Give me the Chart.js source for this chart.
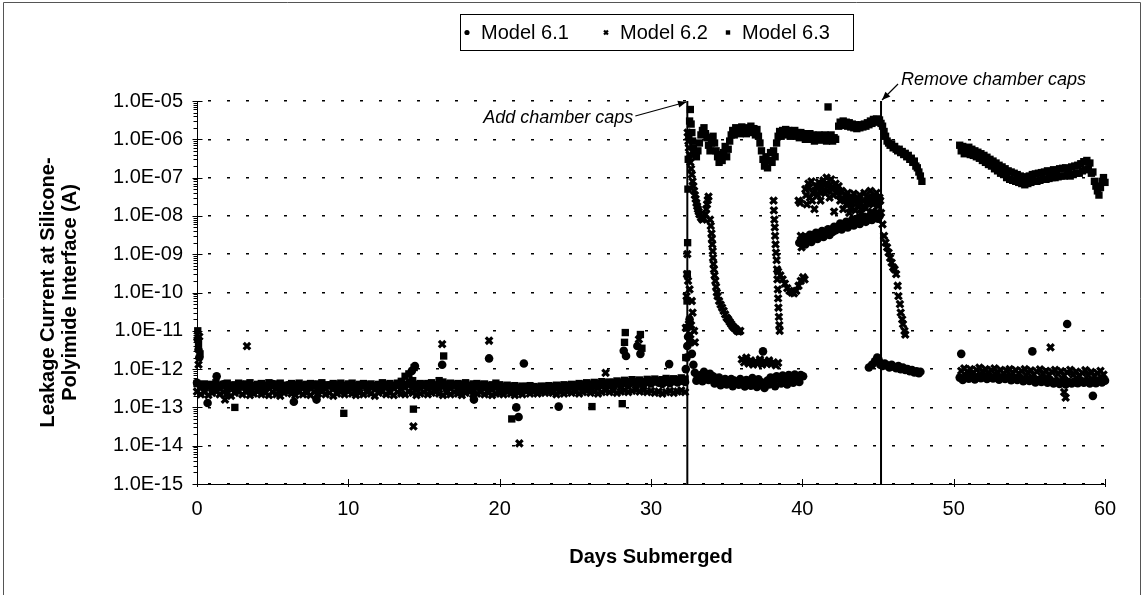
<!DOCTYPE html>
<html>
<head>
<meta charset="utf-8">
<script src="https://cdn.jsdelivr.net/npm/chart.js@4.4.0/dist/chart.umd.min.js"></script>
<style>
  body { margin: 0; background: #fff; }
  #wrap { width: 1143px; height: 595px; position: relative; }
</style>
</head>
<body>
<div id="wrap"><canvas id="leak-chart"></canvas></div>
<script>
const FONT = '"Liberation Sans", Arial, sans-serif'

const xTickValues = [0, 10, 20, 30, 40, 50, 60]
const yTickValues = [1e-15, 1e-14, 1e-13, 1e-12, 1e-11, 1e-10, 1e-9, 1e-8, 1e-7, 1e-6, 1e-5]
const yTickLabels = ['1.0E-15', '1.0E-14', '1.0E-13', '1.0E-12', '1.0E-11', '1.0E-10',
    '1.0E-09', '1.0E-08', '1.0E-07', '1.0E-06', '1.0E-05']

const capsOnDay = 32.4
const capsOffDay = 45.2
const noteAdd = 'Add chamber caps'
const noteRemove = 'Remove chamber caps'

// days before the caps, same sampling for the three models
const baseDays = [
    0, 0.25, 0.5, 0.75, 1, 1.25, 1.5, 1.75, 2, 2.25,
    2.5, 2.75, 3, 3.25, 3.5, 3.75, 4, 4.25, 4.5, 4.75,
    5, 5.25, 5.5, 5.75, 6, 6.25, 6.5, 6.75, 7, 7.25,
    7.5, 7.75, 8, 8.25, 8.5, 8.75, 9, 9.25, 9.5, 9.75,
    10, 10.25, 10.5, 10.75, 11, 11.25, 11.5, 11.75, 12, 12.25,
    12.5, 12.75, 13, 13.25, 13.5, 13.75, 14, 14.25, 14.5, 14.75,
    15, 15.25, 15.5, 15.75, 16, 16.25, 16.5, 16.75, 17, 17.25,
    17.5, 17.75, 18, 18.25, 18.5, 18.75, 19, 19.25, 19.5, 19.75,
    20, 20.25, 20.5, 20.75, 21, 21.25, 21.5, 21.75, 22, 22.25,
    22.5, 22.75, 23, 23.25, 23.5, 23.75, 24, 24.25, 24.5, 24.75,
    25, 25.25, 25.5, 25.75, 26, 26.25, 26.5, 26.75, 27, 27.25,
    27.5, 27.75, 28, 28.25, 28.5, 28.75, 29, 29.25, 29.5, 29.75,
    30, 30.25, 30.5, 30.75, 31, 31.25, 31.5, 31.75, 32, 32.25,
]

const m61Base = [
    4.4e-13, 3.6e-13, 3.1e-13, 3.8e-13, 3.3e-13, 2.9e-13, 3.5e-13, 4.0e-13, 3.2e-13, 3.6e-13,
    3.0e-13, 3.4e-13, 3.9e-13, 3.1e-13, 2.8e-13, 3.5e-13, 3.7e-13, 3.2e-13, 3.0e-13, 3.6e-13,
    4.1e-13, 3.3e-13, 2.9e-13, 3.4e-13, 3.8e-13, 3.1e-13, 2.7e-13, 3.3e-13, 3.6e-13, 3.0e-13,
    3.4e-13, 3.9e-13, 3.2e-13, 2.9e-13, 3.5e-13, 3.8e-13, 3.3e-13, 3.0e-13, 3.6e-13, 3.2e-13,
    3.7e-13, 3.4e-13, 3.0e-13, 3.5e-13, 3.9e-13, 3.2e-13, 3.6e-13, 3.3e-13, 2.9e-13, 3.5e-13,
    3.8e-13, 3.2e-13, 3.6e-13, 3.9e-13, 3.4e-13, 3.7e-13, 4.4e-13, 3.6e-13, 3.1e-13, 3.5e-13,
    3.9e-13, 3.3e-13, 3.6e-13, 3.0e-13, 3.4e-13, 3.8e-13, 3.2e-13, 3.5e-13, 3.9e-13, 3.3e-13,
    3.0e-13, 3.6e-13, 3.4e-13, 3.1e-13, 3.7e-13, 3.3e-13, 3.5e-13, 3.0e-13, 3.2e-13, 3.6e-13,
    3.4e-13, 3.1e-13, 2.9e-13, 3.3e-13, 3.0e-13, 2.8e-13, 3.2e-13, 3.0e-13, 2.9e-13, 3.1e-13,
    2.8e-13, 3.0e-13, 3.2e-13, 2.9e-13, 3.1e-13, 3.3e-13, 3.0e-13, 3.4e-13, 3.1e-13, 3.5e-13,
    3.3e-13, 3.6e-13, 3.2e-13, 3.7e-13, 3.4e-13, 3.8e-13, 3.5e-13, 3.9e-13, 3.6e-13, 4.0e-13,
    3.7e-13, 4.2e-13, 3.8e-13, 4.3e-13, 3.9e-13, 4.5e-13, 4.1e-13, 4.4e-13, 4.0e-13, 4.6e-13,
    4.2e-13, 4.8e-13, 4.4e-13, 4.1e-13, 4.7e-13, 4.3e-13, 4.9e-13, 4.5e-13, 5.0e-13, 4.6e-13,
]
const m62Base = [
    2.6e-13, 2.2e-13, 2.5e-13, 2.1e-13, 2.4e-13, 2.7e-13, 2.2e-13, 2.5e-13, 2.3e-13, 2.0e-13,
    2.4e-13, 2.6e-13, 2.2e-13, 2.5e-13, 2.1e-13, 2.3e-13, 2.6e-13, 2.2e-13, 2.4e-13, 2.1e-13,
    2.5e-13, 2.2e-13, 2.0e-13, 2.4e-13, 2.6e-13, 2.3e-13, 2.1e-13, 2.5e-13, 2.2e-13, 2.4e-13,
    2.1e-13, 2.5e-13, 2.3e-13, 2.6e-13, 2.2e-13, 2.4e-13, 2.0e-13, 2.3e-13, 2.5e-13, 2.2e-13,
    2.6e-13, 2.3e-13, 2.1e-13, 2.4e-13, 2.2e-13, 2.5e-13, 2.3e-13, 2.0e-13, 2.4e-13, 2.6e-13,
    2.2e-13, 2.4e-13, 2.1e-13, 2.5e-13, 2.3e-13, 2.2e-13, 2.6e-13, 2.4e-13, 2.1e-13, 2.3e-13,
    2.5e-13, 2.2e-13, 2.4e-13, 2.6e-13, 2.3e-13, 2.1e-13, 2.4e-13, 2.2e-13, 2.5e-13, 2.3e-13,
    2.1e-13, 2.4e-13, 2.6e-13, 2.2e-13, 2.3e-13, 2.5e-13, 2.2e-13, 2.4e-13, 2.1e-13, 2.3e-13,
    2.4e-13, 2.2e-13, 2.5e-13, 2.3e-13, 2.1e-13, 2.4e-13, 2.2e-13, 2.6e-13, 2.3e-13, 2.5e-13,
    2.3e-13, 2.5e-13, 2.4e-13, 2.6e-13, 2.4e-13, 2.2e-13, 2.5e-13, 2.3e-13, 2.6e-13, 2.4e-13,
    2.6e-13, 2.3e-13, 2.5e-13, 2.7e-13, 2.4e-13, 2.6e-13, 2.3e-13, 2.5e-13, 2.8e-13, 2.5e-13,
    2.7e-13, 2.4e-13, 2.6e-13, 2.8e-13, 2.5e-13, 2.7e-13, 2.9e-13, 2.6e-13, 2.8e-13, 2.5e-13,
    2.7e-13, 2.4e-13, 2.6e-13, 2.3e-13, 2.5e-13, 2.7e-13, 2.4e-13, 2.6e-13, 2.8e-13, 2.5e-13,
]
const m63Base = [
    4.2e-13, 3.8e-13, 4.1e-13, 3.7e-13, 4.0e-13, 4.4e-13, 3.8e-13, 4.0e-13, 4.3e-13, 3.7e-13,
    3.9e-13, 4.3e-13, 3.8e-13, 4.1e-13, 4.4e-13, 3.7e-13, 4.0e-13, 4.2e-13, 3.8e-13, 4.4e-13,
    3.7e-13, 4.1e-13, 4.3e-13, 3.8e-13, 3.6e-13, 4.2e-13, 3.9e-13, 4.3e-13, 3.8e-13, 4.0e-13,
    4.2e-13, 3.8e-13, 4.1e-13, 4.4e-13, 3.9e-13, 3.7e-13, 4.2e-13, 3.9e-13, 4.3e-13, 3.8e-13,
    4.1e-13, 4.3e-13, 3.8e-13, 4.0e-13, 4.2e-13, 3.9e-13, 4.1e-13, 3.7e-13, 4.0e-13, 4.4e-13,
    3.9e-13, 4.2e-13, 3.8e-13, 4.3e-13, 4.8e-13, 6.5e-13, 7.5e-13, 5.0e-13, 4.0e-13, 4.2e-13,
    3.8e-13, 4.2e-13, 4.4e-13, 3.9e-13, 5.0e-13, 4.6e-13, 4.1e-13, 4.3e-13, 3.8e-13, 4.2e-13,
    4.0e-13, 4.4e-13, 3.8e-13, 4.1e-13, 4.2e-13, 3.9e-13, 4.1e-13, 3.7e-13, 3.9e-13, 4.3e-13,
    3.9e-13, 3.6e-13, 3.8e-13, 3.5e-13, 3.7e-13, 3.4e-13, 3.6e-13, 3.5e-13, 3.7e-13, 3.5e-13,
    3.4e-13, 3.6e-13, 3.5e-13, 3.7e-13, 3.5e-13, 3.8e-13, 3.6e-13, 3.9e-13, 3.7e-13, 4.0e-13,
    3.9e-13, 4.2e-13, 4.0e-13, 4.4e-13, 4.1e-13, 4.5e-13, 4.2e-13, 4.7e-13, 4.4e-13, 4.6e-13,
    4.5e-13, 4.9e-13, 4.6e-13, 5.1e-13, 4.7e-13, 5.3e-13, 4.8e-13, 5.2e-13, 4.7e-13, 5.4e-13,
    5.0e-13, 5.5e-13, 5.1e-13, 5.3e-13, 5.7e-13, 5.2e-13, 5.6e-13, 5.3e-13, 5.9e-13, 5.5e-13,
]

// stray readings and everything after the caps went on, [day, amps]
const m61Extra = [
    [0.05, 6e-12], [0.1, 3.2e-12], [0.15, 2e-12], [0.7, 1.3e-13], [1.3, 6.5e-13], [6.4, 1.4e-13],
    [7.9, 1.6e-13], [14.2, 9e-13], [14.4, 1.2e-12], [16.2, 1.3e-12], [18.3, 1.6e-13], [19.3, 1.9e-12],
    [21.1, 1e-13], [21.25, 5.6e-14], [21.6, 1.4e-12], [23.9, 1.05e-13], [28.2, 3e-12], [28.35, 2.2e-12],
    [29.1, 4e-12], [29.3, 2.5e-12], [31.2, 1.35e-12],
    [32.3, 1e-12], [32.35, 2e-12], [32.4, 4e-12], [32.45, 7e-12], [32.5, 1.3e-11], [32.55, 2e-11],
    [32.6, 5e-12], [32.7, 2.5e-12], [32.8, 1.3e-12],
    [32.9, 8e-13], [33.1, 6.5e-13], [33.3, 7e-13], [33.5, 8.5e-13], [33.7, 6e-13], [33.9, 7.5e-13],
    [34.1, 6.5e-13], [34.3, 5.5e-13], [34.5, 6e-13], [34.7, 5e-13], [34.9, 5.5e-13], [35.1, 4.5e-13],
    [35.3, 5.5e-13], [35.5, 5e-13], [35.7, 4.2e-13], [35.9, 5.5e-13], [36.1, 4.6e-13], [36.3, 5.2e-13],
    [36.5, 4.4e-13], [36.7, 5.8e-13], [36.9, 4.8e-13], [37.1, 5.4e-13], [37.3, 4.5e-13], [37.5, 3.2e-13],
    [37.7, 5e-13], [37.9, 6e-13], [38.1, 5.2e-13], [38.3, 6.5e-13], [38.5, 5.5e-13], [38.7, 6.8e-13],
    [38.9, 5.8e-13], [39.1, 7e-13], [39.3, 6e-13], [39.5, 7.2e-13], [39.7, 6.2e-13], [39.9, 7e-13],
    [40.05, 6.5e-13],
    [33.0, 5e-13], [33.4, 4.8e-13], [33.8, 5.2e-13], [34.2, 4.2e-13], [34.6, 3.8e-13], [35.0, 4e-13],
    [35.4, 3.6e-13], [35.8, 3.9e-13], [36.2, 3.5e-13], [36.6, 3.7e-13], [37.0, 3.4e-13], [37.4, 3.8e-13],
    [37.8, 4e-13], [38.2, 3.6e-13], [38.6, 4.2e-13], [39.0, 4e-13], [39.4, 4.4e-13], [39.8, 4.6e-13],
    [37.4, 2.9e-12],
    [39.8, 2e-9], [40.0, 2.2e-9], [40.2, 1.8e-9], [40.4, 2.4e-9], [40.6, 2.1e-9], [40.8, 2.7e-9],
    [41.0, 2.5e-9], [41.2, 3e-9], [41.4, 2.8e-9], [41.6, 3.4e-9], [41.8, 3.2e-9], [42.0, 3.8e-9],
    [42.2, 4.2e-9], [42.4, 4.8e-9], [42.6, 4.4e-9], [42.8, 5.5e-9], [43.0, 5e-9], [43.2, 6e-9],
    [43.4, 5.6e-9], [43.6, 6.8e-9], [43.8, 6.2e-9], [44.0, 7.5e-9], [44.2, 7e-9], [44.4, 8.2e-9],
    [44.6, 7.8e-9], [44.8, 9e-9], [45.0, 8.5e-9], [45.1, 1e-8],
    [40.1, 2.8e-9], [40.5, 3.2e-9], [40.9, 3.6e-9], [41.3, 4e-9], [41.7, 4.5e-9], [42.1, 5.2e-9],
    [42.5, 6.3e-9], [42.9, 7e-9], [43.3, 8e-9], [43.7, 8.8e-9], [44.1, 9.5e-9], [44.5, 1.05e-8],
    [44.9, 1.15e-8],
    [44.4, 1.1e-12], [44.6, 1.3e-12], [44.8, 1.6e-12], [44.95, 2e-12], [45.05, 1.7e-12], [45.15, 1.3e-12],
    [45.3, 1.2e-12], [45.45, 1.4e-12], [45.6, 1.25e-12], [45.75, 1.1e-12], [45.9, 1.3e-12], [46.05, 1.15e-12],
    [46.2, 1.05e-12], [46.35, 1.2e-12], [46.5, 1e-12], [46.65, 1.1e-12], [46.8, 9.5e-13], [46.95, 1e-12],
    [47.1, 8.8e-13], [47.25, 9.5e-13], [47.4, 8.2e-13], [47.55, 8.8e-13], [47.7, 7.8e-13], [47.8, 8.5e-13],
    [50.4, 6e-13], [50.6, 5.2e-13], [50.8, 6.4e-13], [51.0, 5.6e-13], [51.2, 6.8e-13], [51.4, 5.4e-13],
    [51.6, 6.2e-13], [51.8, 5.8e-13], [52.0, 6.6e-13], [52.2, 5.5e-13], [52.4, 6.3e-13], [52.6, 5.7e-13],
    [52.8, 6.5e-13], [53.0, 5.3e-13], [53.2, 6e-13], [53.4, 5.5e-13], [53.6, 6.2e-13], [53.8, 5.1e-13],
    [54.0, 5.8e-13], [54.2, 5.2e-13], [54.4, 5.9e-13], [54.6, 4.8e-13], [54.8, 5.6e-13], [55.0, 4.9e-13],
    [55.2, 5.4e-13], [55.4, 4.5e-13], [55.6, 5.2e-13], [55.8, 4.6e-13], [56.0, 5.3e-13], [56.2, 4.4e-13],
    [56.4, 5e-13], [56.6, 4.2e-13], [56.8, 4.9e-13], [57.0, 4.1e-13], [57.2, 4.7e-13], [57.4, 4e-13],
    [57.6, 4.6e-13], [57.8, 4.2e-13], [58.0, 4.8e-13], [58.2, 4.3e-13], [58.4, 5e-13], [58.6, 4.4e-13],
    [58.8, 4.9e-13], [59.0, 4.2e-13], [59.2, 4.7e-13], [59.4, 4.3e-13], [59.6, 5.1e-13], [59.8, 4.5e-13],
    [60.0, 5e-13],
    [50.5, 2.5e-12], [55.2, 2.9e-12], [57.5, 1.5e-11], [59.2, 2e-13],
]

const m62Extra = [
    [0.1, 1.3e-12], [0.15, 7e-12], [1.85, 1.6e-13], [3.3, 4e-12], [14.3, 3.2e-14], [16.2, 4.5e-12],
    [19.3, 5.5e-12], [21.3, 1.15e-14], [27.0, 8e-13], [29.2, 6e-12],
    [32.3, 1.2e-11], [32.35, 8e-11], [32.38, 3e-10], [32.4, 1e-9], [32.42, 1.5e-6], [32.47, 9e-7],
    [32.5, 6e-7], [32.55, 4e-7], [32.6, 2.5e-7], [32.65, 1.7e-7], [32.7, 1.2e-7], [32.75, 8e-8],
    [32.8, 6e-8], [32.85, 4.5e-8], [32.9, 3.5e-8], [32.95, 2.8e-8], [33.0, 2.2e-8], [33.05, 1.8e-8],
    [33.1, 1.5e-8], [33.15, 1.3e-8], [33.2, 1.1e-8], [33.3, 9e-9], [33.4, 8e-9], [33.5, 8.5e-9],
    [33.6, 1.1e-8], [33.65, 1.5e-8], [33.7, 2e-8], [33.75, 2.6e-8], [33.8, 3.2e-8],
    [33.9, 8e-9], [33.95, 5.5e-9], [34.0, 3.5e-9], [34.02, 2.5e-9], [34.05, 1.8e-9], [34.08, 1.2e-9],
    [34.1, 8e-10], [34.13, 5.5e-10], [34.16, 4e-10], [34.2, 2.8e-10], [34.25, 2e-10], [34.3, 1.4e-10],
    [34.35, 1e-10], [34.4, 8e-11], [34.5, 6e-11], [34.6, 4.8e-11], [34.7, 4e-11], [34.8, 3.3e-11],
    [34.9, 2.7e-11], [35.0, 2.2e-11], [35.1, 2e-11], [35.2, 1.7e-11], [35.3, 1.5e-11], [35.4, 1.3e-11],
    [35.5, 1.2e-11], [35.6, 1.1e-11], [35.7, 1e-11], [35.8, 9.5e-12], [35.9, 1e-11],
    [32.45, 2e-10], [32.55, 1.2e-10], [32.7, 6e-11], [32.5, 1.5e-11], [32.6, 8e-12], [32.65, 1.4e-11],
    [32.75, 3e-11], [32.85, 1e-11], [32.9, 5e-12],
    [36.0, 1.8e-12], [36.15, 1.5e-12], [36.3, 2e-12], [36.45, 1.4e-12], [36.6, 1.7e-12], [36.75, 1.3e-12],
    [36.9, 1.6e-12], [37.05, 1.4e-12], [37.2, 1.8e-12], [37.35, 1.3e-12], [37.5, 1.6e-12], [37.65, 1.4e-12],
    [37.8, 1.7e-12], [37.95, 1.35e-12], [38.1, 1.5e-12], [38.25, 1.25e-12], [38.4, 1.45e-12],
    [38.1, 2.5e-8], [38.12, 1.4e-8], [38.15, 8e-9], [38.18, 5e-9], [38.2, 3e-9], [38.23, 1.8e-9],
    [38.26, 1.1e-9], [38.3, 7e-10], [38.33, 4e-10], [38.35, 2.2e-10], [38.38, 1.2e-10], [38.4, 7e-11],
    [38.42, 4e-11], [38.45, 2.3e-11], [38.48, 1.4e-11], [38.5, 1e-11],
    [38.4, 3.5e-10], [38.55, 2.8e-10], [38.7, 2.2e-10], [38.85, 1.7e-10], [39.0, 1.3e-10], [39.15, 1.1e-10],
    [39.3, 1e-10], [39.45, 9.5e-11], [39.6, 1.1e-10], [39.75, 1.5e-10], [39.9, 2e-10], [40.05, 2.5e-10],
    [40.15, 2.2e-10], [39.75, 2.5e-8], [39.85, 2.2e-8], [39.9, 3e-9], [39.95, 1.5e-9],
    [40.2, 5e-8], [40.3, 2e-8], [40.4, 7e-8], [40.5, 3e-8], [40.6, 8e-8], [40.7, 4e-8], [40.8, 1.5e-8],
    [40.9, 6e-8], [41.0, 3.5e-8], [41.1, 7.5e-8], [41.2, 2.5e-8], [41.3, 5.5e-8], [41.4, 8.5e-8],
    [41.5, 4e-8], [41.6, 1e-7], [41.7, 6e-8], [41.8, 3e-8], [41.9, 9e-8], [42.0, 5e-8], [42.1, 1.3e-8],
    [42.2, 7e-8], [42.3, 4e-8], [42.4, 6e-8], [42.5, 2.5e-8], [42.6, 4.5e-8], [42.7, 1.5e-8],
    [42.8, 3.5e-8], [42.9, 2e-8], [43.0, 4e-8], [43.1, 1.2e-8], [43.2, 3e-8], [43.3, 2.2e-8],
    [43.4, 3.8e-8], [43.5, 1.4e-8], [43.6, 2.8e-8], [43.7, 1.8e-8], [43.8, 3.5e-8], [43.9, 1.2e-8],
    [44.0, 2.5e-8], [44.1, 4e-8], [44.2, 1.6e-8], [44.3, 3e-8], [44.4, 2e-8], [44.5, 4.5e-8],
    [44.6, 1.3e-8], [44.7, 3.2e-8], [44.8, 2.2e-8], [44.9, 4e-8], [45.0, 1.8e-8], [45.1, 3e-8],
    [40.25, 3.5e-8], [40.45, 5.5e-8], [40.65, 2.5e-8], [40.85, 4.5e-8], [41.05, 6e-8], [41.25, 4e-8],
    [41.45, 6.5e-8], [41.65, 4.5e-8], [41.85, 6.5e-8], [42.05, 3.5e-8], [42.25, 5e-8], [42.45, 3.5e-8],
    [42.65, 2.8e-8], [42.85, 2.6e-8], [43.05, 2.4e-8], [43.25, 1.7e-8], [43.45, 2.6e-8], [43.65, 2.2e-8],
    [43.85, 2e-8], [44.05, 1.7e-8], [44.25, 2.2e-8], [44.45, 2.8e-8], [44.65, 2.1e-8], [44.85, 3e-8],
    [45.05, 2.4e-8],
    [45.15, 2.5e-8], [45.2, 1.2e-8], [45.3, 6e-9], [45.4, 3e-9], [45.5, 2e-9], [45.6, 1.5e-9],
    [45.7, 1.1e-9], [45.8, 8e-10], [45.9, 6e-10], [46.0, 4.5e-10], [46.1, 4e-10], [46.2, 3e-10],
    [46.3, 1.5e-10], [46.35, 8e-11], [46.45, 5e-11], [46.5, 3e-11], [46.6, 2e-11], [46.65, 1.5e-11],
    [46.75, 1e-11], [46.8, 8e-12],
    [50.5, 9e-13], [50.7, 1.05e-12], [50.9, 8.5e-13], [51.1, 1e-12], [51.3, 8e-13], [51.5, 9.5e-13],
    [51.7, 1.1e-12], [51.9, 8.5e-13], [52.1, 1e-12], [52.3, 7.8e-13], [52.5, 9.2e-13], [52.7, 1.05e-12],
    [52.9, 8.2e-13], [53.1, 9.6e-13], [53.3, 7.6e-13], [53.5, 9e-13], [53.7, 1e-12], [53.9, 8e-13],
    [54.1, 9.4e-13], [54.3, 7.5e-13], [54.5, 8.8e-13], [54.7, 1e-12], [54.9, 8e-13], [55.1, 9.2e-13],
    [55.3, 7.2e-13], [55.5, 8.6e-13], [55.7, 9.8e-13], [55.9, 7.6e-13], [56.1, 9e-13], [56.3, 7e-13],
    [56.5, 8.4e-13], [56.7, 9.6e-13], [56.9, 7.4e-13], [57.1, 8.8e-13], [57.3, 6.8e-13], [57.5, 8.2e-13],
    [57.7, 9.5e-13], [57.9, 7.2e-13], [58.1, 8.6e-13], [58.3, 6.6e-13], [58.5, 8e-13], [58.7, 9.4e-13],
    [58.9, 7e-13], [59.1, 8.4e-13], [59.3, 6.5e-13], [59.5, 7.8e-13], [59.7, 9e-13], [59.9, 7.2e-13],
    [56.4, 3.7e-12], [57.3, 2.5e-13], [57.4, 1.8e-13],
]

const m63Extra = [
    [0.05, 1e-11], [0.1, 4.5e-12], [0.2, 2.5e-12], [2.5, 1e-13], [9.7, 7e-14], [14.3, 9e-14],
    [14.35, 1.1e-12], [16.3, 2.2e-12], [20.8, 5e-14], [26.1, 1.05e-13], [28.1, 1.25e-13], [28.3, 9e-12],
    [28.25, 5e-12], [29.3, 8e-12], [29.4, 3.5e-12],
    [32.3, 2e-12], [32.35, 1.2e-11], [32.38, 6e-11], [32.4, 3e-10], [32.42, 2e-9], [32.44, 5e-8],
    [32.46, 3e-7], [32.5, 1.2e-6], [32.55, 3e-6], [32.6, 6e-6], [32.65, 2.5e-6], [32.7, 1.5e-6],
    [32.75, 9e-7], [32.8, 6e-7], [32.9, 4.5e-7], [33.0, 3.5e-7], [33.1, 5e-7], [33.2, 8e-7],
    [33.3, 1.3e-6], [33.4, 1.7e-6], [33.5, 2e-6], [33.6, 1.4e-6], [33.7, 1.1e-6], [33.8, 7e-7],
    [33.9, 5e-7], [34.0, 8e-7], [34.1, 1.2e-6], [34.2, 8e-7], [34.3, 5e-7], [34.4, 3.5e-7],
    [34.5, 2.5e-7], [34.6, 4e-7], [34.7, 2.8e-7], [34.8, 4.5e-7], [34.9, 6.5e-7], [35.0, 3.5e-7],
    [35.1, 5.5e-7], [35.2, 9e-7], [35.3, 1.3e-6], [35.4, 1.7e-6], [35.5, 1.3e-6], [35.6, 2e-6],
    [35.7, 1.5e-6], [35.8, 1.9e-6], [35.9, 1.4e-6], [36.0, 2.1e-6], [36.1, 1.6e-6], [36.2, 1.9e-6],
    [36.3, 1.4e-6], [36.4, 2e-6], [36.5, 1.6e-6], [36.6, 2.2e-6], [36.7, 1.5e-6], [36.8, 1.9e-6],
    [36.9, 1.3e-6], [37.0, 1.8e-6], [37.1, 1.2e-6], [37.2, 8e-7], [37.3, 5e-7], [37.4, 3e-7],
    [37.5, 2e-7], [37.6, 3.5e-7], [37.7, 1.8e-7], [37.8, 2.8e-7], [37.9, 4.5e-7], [38.0, 2.5e-7],
    [38.1, 5e-7], [38.2, 3.5e-7], [38.3, 8e-7], [38.4, 1.2e-6], [38.5, 1.6e-6], [38.6, 1.2e-6],
    [38.7, 1.7e-6], [38.8, 1.3e-6], [38.9, 1.8e-6], [39.0, 1.4e-6], [39.1, 1.7e-6], [39.2, 1.2e-6],
    [39.3, 1.6e-6], [39.4, 1.3e-6], [39.5, 1.7e-6], [39.6, 1.2e-6], [39.7, 1.5e-6], [39.8, 1.1e-6],
    [39.9, 1.5e-6], [40.0, 1.2e-6], [40.1, 1.4e-6], [40.2, 1e-6], [40.3, 1.3e-6], [40.4, 1.1e-6],
    [40.5, 1.4e-6], [40.6, 1e-6], [40.7, 1.3e-6], [40.8, 9e-7], [40.9, 1.2e-6], [41.0, 1e-6],
    [41.1, 1.3e-6], [41.2, 9.5e-7], [41.3, 1.2e-6], [41.4, 1e-6], [41.5, 1.3e-6], [41.6, 9e-7],
    [41.7, 1.2e-6], [41.8, 1e-6], [41.9, 1.3e-6], [42.0, 9e-7], [42.1, 1.1e-6], [42.2, 1e-6],
    [41.7, 7e-6],
    [42.4, 2.2e-6], [42.5, 2.8e-6], [42.6, 2.3e-6], [42.7, 3e-6], [42.8, 2.4e-6], [42.9, 2.8e-6],
    [43.0, 2.2e-6], [43.1, 2.7e-6], [43.2, 2.1e-6], [43.3, 2.5e-6], [43.4, 2e-6], [43.5, 2.4e-6],
    [43.6, 1.9e-6], [43.7, 2.3e-6], [43.8, 2e-6], [43.9, 2.4e-6], [44.0, 2.1e-6], [44.1, 2.5e-6],
    [44.2, 2.2e-6], [44.3, 2.7e-6], [44.4, 2.4e-6], [44.5, 3e-6], [44.6, 2.6e-6], [44.7, 3.3e-6],
    [44.8, 2.9e-6], [44.9, 3.4e-6], [45.0, 2.8e-6], [45.1, 3.2e-6], [45.2, 2.6e-6],
    [45.3, 2.2e-6], [45.4, 1.6e-6], [45.5, 1.2e-6], [45.6, 9e-7], [45.7, 8e-7], [45.8, 7e-7],
    [45.9, 7.5e-7], [46.0, 6e-7], [46.1, 6.5e-7], [46.2, 5.5e-7], [46.3, 5e-7], [46.4, 5.5e-7],
    [46.5, 4.5e-7], [46.6, 4.8e-7], [46.7, 4e-7], [46.8, 4.3e-7], [46.9, 3.5e-7], [47.0, 3.8e-7],
    [47.1, 3e-7], [47.2, 3.2e-7], [47.3, 2.5e-7], [47.4, 2.7e-7], [47.5, 2e-7], [47.6, 1.8e-7],
    [47.7, 1.4e-7], [47.8, 1.1e-7], [47.9, 8e-8],
    [50.4, 7e-7], [50.5, 5e-7], [50.6, 6.5e-7], [50.7, 4.2e-7], [50.8, 6e-7], [50.9, 4.5e-7],
    [51.0, 6.2e-7], [51.1, 4e-7], [51.2, 5.5e-7], [51.3, 3.8e-7], [51.4, 5e-7], [51.5, 3.5e-7],
    [51.6, 4.6e-7], [51.7, 3.2e-7], [51.8, 4.2e-7], [51.9, 2.8e-7], [52.0, 3.8e-7], [52.1, 2.5e-7],
    [52.2, 3.4e-7], [52.3, 2.2e-7], [52.4, 3e-7], [52.5, 2e-7], [52.6, 2.7e-7], [52.7, 1.7e-7],
    [52.8, 2.4e-7], [52.9, 1.5e-7], [53.0, 2.1e-7], [53.1, 1.3e-7], [53.2, 1.9e-7], [53.3, 1.2e-7],
    [53.4, 1.7e-7], [53.5, 1e-7], [53.6, 1.5e-7], [53.7, 9e-8], [53.8, 1.4e-7], [53.9, 8.5e-8],
    [54.0, 1.3e-7], [54.1, 8e-8], [54.2, 1.2e-7], [54.3, 7.5e-8], [54.4, 1.1e-7], [54.5, 7e-8],
    [54.6, 1.05e-7], [54.7, 6.5e-8], [54.8, 1e-7], [54.9, 7e-8], [55.0, 1.1e-7], [55.1, 7.5e-8],
    [55.2, 1.2e-7], [55.3, 8e-8], [55.4, 1.25e-7], [55.5, 8e-8], [55.6, 1.3e-7], [55.7, 8.5e-8],
    [55.8, 1.35e-7], [55.9, 9e-8], [56.0, 1.4e-7], [56.1, 9e-8], [56.2, 1.5e-7], [56.3, 9.5e-8],
    [56.4, 1.45e-7], [56.5, 1e-7], [56.6, 1.6e-7], [56.7, 1e-7], [56.8, 1.55e-7], [56.9, 1.05e-7],
    [57.0, 1.7e-7], [57.1, 1.1e-7], [57.2, 1.75e-7], [57.3, 1.1e-7], [57.4, 1.8e-7], [57.5, 1.15e-7],
    [57.6, 1.7e-7], [57.7, 1.1e-7], [57.8, 1.9e-7], [57.9, 1.2e-7], [58.0, 2e-7], [58.1, 1.3e-7],
    [58.2, 2.1e-7], [58.3, 1.3e-7], [58.4, 2.3e-7], [58.5, 1.5e-7], [58.6, 2.6e-7], [58.7, 1.6e-7],
    [58.8, 2.8e-7], [58.9, 1.7e-7], [59.0, 2.4e-7], [59.1, 1.3e-7], [59.2, 1.4e-7], [59.3, 8e-8],
    [59.4, 6e-8], [59.5, 4.5e-8], [59.6, 3.5e-8], [59.7, 5.5e-8], [59.8, 8e-8], [59.9, 1e-7],
    [60.0, 7.5e-8],
]

const toPoints = (days, amps) => days.map((d, i) => ({x: d, y: amps[i]}))
const pairPoints = pairs => pairs.map(p => ({x: p[0], y: p[1]}))

const marker = {
    backgroundColor: '#000',
    borderColor: '#000',
    showLine: false,
    clip: false,
}

const capsLine = day => ({
    type: 'line',
    data: [{x: day, y: yTickValues[0]}, {x: day, y: yTickValues[yTickValues.length - 1]}],
    borderColor: '#000',
    borderWidth: 2,
    pointRadius: 0,
    showLine: true,
})

const leakData = {
    datasets: [
        {
            ...marker,
            label: 'Model 6.1',
            pointStyle: 'circle',
            pointRadius: 4.3,
            borderWidth: 0,
            data: toPoints(baseDays, m61Base).concat(pairPoints(m61Extra)),
        },
        {
            ...marker,
            label: 'Model 6.2',
            pointStyle: 'crossRot',
            pointRadius: 4.6,
            borderWidth: 3.2,
            data: toPoints(baseDays, m62Base).concat(pairPoints(m62Extra)),
        },
        {
            ...marker,
            label: 'Model 6.3',
            pointStyle: 'rect',
            pointRadius: 5.2,
            borderWidth: 0,
            data: toPoints(baseDays, m63Base).concat(pairPoints(m63Extra)),
        },
        capsLine(capsOnDay),
        capsLine(capsOffDay),
    ],
}

// white page and the thin frame on top, left and right
const paper = {
    id: 'paper',
    beforeDraw(chart) {
        const ctx = chart.ctx
        ctx.save()
        ctx.fillStyle = '#fff'
        ctx.fillRect(0, 0, chart.width, chart.height)
        ctx.restore()
    },
    afterDraw(chart) {
        const ctx = chart.ctx
        ctx.save()
        ctx.strokeStyle = '#555'
        ctx.lineWidth = 1
        ctx.beginPath()
        ctx.moveTo(3.5, chart.height)
        ctx.lineTo(3.5, 2.5)
        ctx.lineTo(chart.width - 2.5, 2.5)
        ctx.lineTo(chart.width - 2.5, chart.height)
        ctx.stroke()
        ctx.restore()
    },
}

// excel style tick marks, crossing on y with small minor ticks
const tickMarks = {
    id: 'tickMarks',
    afterDraw(chart) {
        const {ctx, scales: {x, y}} = chart
        const x0 = Math.round(y.right) + 0.5
        ctx.save()
        ctx.strokeStyle = '#000'
        ctx.lineWidth = 1
        ctx.beginPath()
        yTickValues.forEach((v, i) => {
            const py = Math.round(y.getPixelForValue(v)) + 0.5
            ctx.moveTo(x0 - 5, py)
            ctx.lineTo(x0 + 5, py)
            if (i < yTickValues.length - 1) {
                for (let m = 2; m < 10; m++) {
                    const pm = Math.round(y.getPixelForValue(v * m)) + 0.5
                    ctx.moveTo(x0 - 4, pm)
                    ctx.lineTo(x0, pm)
                }
            }
        })
        xTickValues.forEach(v => {
            const px = Math.round(x.getPixelForValue(v)) + 0.5
            ctx.moveTo(px, x.top - 5)
            ctx.lineTo(px, x.top + 3)
        })
        ctx.stroke()
        ctx.restore()
    },
}

// boxed legend on top, like the excel one
const boxLegend = {
    id: 'boxLegend',
    afterDraw(chart) {
        const ctx = chart.ctx
        const items = chart.data.datasets.slice(0, 3)
        const spots = [467, 606, 728]
        ctx.save()
        ctx.strokeStyle = '#000'
        ctx.lineWidth = 1
        ctx.strokeRect(460.5, 14.5, 393, 36)
        ctx.font = '20px ' + FONT
        ctx.textBaseline = 'middle'
        items.forEach((ds, i) => {
            ctx.fillStyle = '#000'
            ctx.strokeStyle = '#000'
            ctx.lineWidth = ds.borderWidth * 0.7
            Chart.helpers.drawPoint(ctx, {
                pointStyle: ds.pointStyle,
                radius: ds.pointRadius * 0.6,
                borderWidth: ds.borderWidth * 0.7,
            }, spots[i], 32.5)
            ctx.fillText(ds.label, spots[i] + 14, 33)
        })
        ctx.restore()
    },
}

const arrow = (ctx, x1, y1, x2, y2) => {
    const a = Math.atan2(y2 - y1, x2 - x1)
    ctx.beginPath()
    ctx.moveTo(x1, y1)
    ctx.lineTo(x2, y2)
    ctx.stroke()
    ctx.beginPath()
    ctx.moveTo(x2, y2)
    ctx.lineTo(x2 - 9 * Math.cos(a - 0.4), y2 - 9 * Math.sin(a - 0.4))
    ctx.lineTo(x2 - 9 * Math.cos(a + 0.4), y2 - 9 * Math.sin(a + 0.4))
    ctx.closePath()
    ctx.fill()
}

const capsNotes = {
    id: 'capsNotes',
    afterDraw(chart) {
        const {ctx, scales: {x, y}} = chart
        const topY = y.getPixelForValue(yTickValues[yTickValues.length - 1])
        const onX = x.getPixelForValue(capsOnDay)
        const offX = x.getPixelForValue(capsOffDay)
        ctx.save()
        ctx.fillStyle = '#000'
        ctx.strokeStyle = '#000'
        ctx.lineWidth = 1.2
        ctx.font = 'italic 18px ' + FONT
        ctx.textBaseline = 'middle'
        ctx.textAlign = 'right'
        ctx.fillText(noteAdd, onX - 54, topY + 17)
        arrow(ctx, onX - 52, topY + 15, onX - 1, topY + 1)
        ctx.textAlign = 'left'
        ctx.fillText(noteRemove, offX + 20, topY - 21)
        arrow(ctx, offX + 17, topY - 17, offX + 1, topY - 1)
        ctx.restore()
    },
}

const leakConfig = {
    type: 'scatter',
    data: leakData,
    options: {
        responsive: true,
        maintainAspectRatio: false,
        animation: false,
        layout: {
            padding: {left: 37, right: 38, top: 101, bottom: 18},
        },
        plugins: {
            legend: {display: false},
            tooltip: {enabled: false},
        },
        scales: {
            x: {
                type: 'linear',
                min: 0,
                max: 60,
                afterBuildTicks: scale => { scale.ticks = xTickValues.map(v => ({value: v})) },
                afterFit: scale => { scale.height = 93 },
                ticks: {
                    color: '#000',
                    font: {family: FONT, size: 20},
                    padding: 13,
                    maxRotation: 0,
                },
                grid: {display: false, drawTicks: false},
                border: {color: '#000', width: 1},
                title: {
                    display: true,
                    text: 'Days Submerged',
                    color: '#000',
                    font: {family: FONT, size: 20, weight: 'bold'},
                    padding: {top: 0, bottom: 8},
                },
            },
            y: {
                type: 'logarithmic',
                min: yTickValues[0],
                max: yTickValues[yTickValues.length - 1],
                afterBuildTicks: scale => { scale.ticks = yTickValues.map(v => ({value: v})) },
                afterFit: scale => { scale.width = 160 },
                ticks: {
                    color: '#000',
                    font: {family: FONT, size: 20},
                    padding: 14,
                    autoSkip: false,
                    callback: (value, index) => yTickLabels[index],
                },
                grid: {color: '#000', lineWidth: 1.5, drawTicks: false},
                border: {color: '#000', width: 1, dash: [3, 16], dashOffset: -10},
                title: {
                    display: true,
                    text: ['Leakage Current at Silicone-', 'Polyimide Interface (A)'],
                    color: '#000',
                    font: {family: FONT, size: 20, weight: 'bold', lineHeight: 1.1},
                    padding: {top: 0, bottom: 0},
                },
            },
        },
    },
    plugins: [paper, tickMarks, boxLegend, capsNotes],
}

const leakChart = new Chart(document.getElementById('leak-chart'), leakConfig)
</script>
</body>
</html>
